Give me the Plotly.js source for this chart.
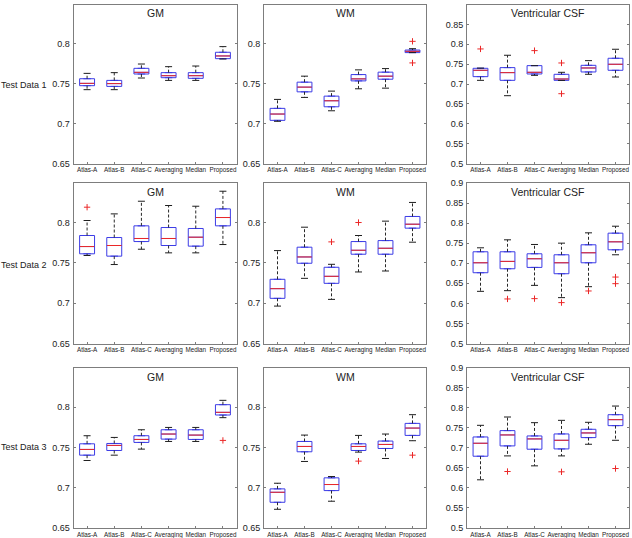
<!DOCTYPE html>
<html>
<head>
<meta charset="utf-8">
<script src="https://cdn.plot.ly/plotly-3.0.1.min.js"></script>
<style>html,body{margin:0;padding:0;background:#fff;}#chart{width:632px;height:538px;}</style>
</head>
<body>
<div id="chart"></div>
<script>
const categories = ['Atlas-A','Atlas-B','Atlas-C','Averaging','Median','Proposed'];
const rowLabels = ['Test Data 1','Test Data 2','Test Data 3'];
const tissueTitles = ['GM','WM','Ventricular CSF'];

// Test Data 1 - GM
const gm1Lower  = [0.7424,0.7424,0.7570,0.7540,0.7540,0.7808];
const gm1Q1     = [0.7474,0.7465,0.7620,0.7574,0.7566,0.7812];
const gm1Median = [0.7503,0.7500,0.7641,0.7599,0.7599,0.7846];
const gm1Q3     = [0.7561,0.7540,0.7691,0.7637,0.7637,0.7892];
const gm1Upper  = [0.7628,0.7637,0.7745,0.7712,0.7720,0.7963];
const gm1OutX = []; const gm1OutY = [];
// Test Data 1 - WM
const wm1Lower  = [0.7028,0.7327,0.7160,0.7435,0.7443,0.7888];
const wm1Q1     = [0.7040,0.7397,0.7210,0.7534,0.7555,0.7888];
const wm1Median = [0.7119,0.7456,0.7285,0.7559,0.7593,0.7904];
const wm1Q3     = [0.7190,0.7518,0.7343,0.7613,0.7643,0.7920];
const wm1Upper  = [0.7302,0.7593,0.7406,0.7672,0.7688,0.7937];
const wm1OutX = ['Proposed','Proposed']; const wm1OutY = [0.8029,0.7759];
// Test Data 1 - Ventricular CSF
const csf1Lower  = [0.7092,0.6706,0.7218,0.7090,0.7244,0.7176];
const csf1Q1     = [0.7185,0.7092,0.7252,0.7092,0.7303,0.7345];
const csf1Median = [0.7345,0.7286,0.7294,0.7126,0.7403,0.7496];
const csf1Q3     = [0.7395,0.7412,0.7462,0.7244,0.7470,0.7647];
const csf1Upper  = [0.7400,0.7723,0.7462,0.7294,0.7588,0.7874];
const csf1OutX = ['Atlas-A','Atlas-C','Averaging','Averaging']; const csf1OutY = [0.7882,0.7840,0.7529,0.6756];

// Test Data 2 - GM
const gm2Lower  = [0.7591,0.7479,0.7669,0.7624,0.7624,0.7727];
const gm2Q1     = [0.7612,0.7583,0.7764,0.7715,0.7707,0.7959];
const gm2Median = [0.7702,0.7715,0.7802,0.7802,0.7818,0.8062];
const gm2Q3     = [0.7839,0.7814,0.7959,0.7938,0.7926,0.8169];
const gm2Upper  = [0.8025,0.8107,0.8264,0.8211,0.8202,0.8388];
const gm2OutX = ['Atlas-A']; const gm2OutY = [0.8190];
// Test Data 2 - WM
const wm2Lower  = [0.6964,0.7308,0.7047,0.7387,0.7399,0.7756];
const wm2Q1     = [0.7060,0.7495,0.7246,0.7607,0.7607,0.7930];
const wm2Median = [0.7180,0.7573,0.7333,0.7656,0.7681,0.7979];
const wm2Q3     = [0.7296,0.7694,0.7445,0.7764,0.7776,0.8075];
const wm2Upper  = [0.7652,0.7942,0.7482,0.7839,0.8017,0.8249];
const wm2OutX = ['Atlas-C','Averaging']; const wm2OutY = [0.7760,0.8000];
// Test Data 2 - Ventricular CSF
const csf2Lower  = [0.6300,0.6317,0.6449,0.6143,0.6416,0.7211];
const csf2Q1     = [0.6764,0.6863,0.6896,0.6739,0.7012,0.7335];
const csf2Median = [0.7012,0.7046,0.7112,0.7012,0.7261,0.7534];
const csf2Q3     = [0.7286,0.7286,0.7236,0.7211,0.7460,0.7750];
const csf2Upper  = [0.7385,0.7584,0.7468,0.7501,0.7758,0.7923];
const csf2OutX = ['Atlas-B','Atlas-C','Averaging','Median','Proposed','Proposed'];
const csf2OutY = [0.6110,0.6118,0.6019,0.6309,0.6656,0.6491];

// Test Data 3 - GM
const gm3Lower  = [0.7337,0.7403,0.7478,0.7573,0.7573,0.7868];
const gm3Q1     = [0.7403,0.7461,0.7561,0.7602,0.7598,0.7901];
const gm3Median = [0.7474,0.7524,0.7598,0.7665,0.7652,0.7934];
const gm3Q3     = [0.7544,0.7548,0.7644,0.7718,0.7718,0.8029];
const gm3Upper  = [0.7644,0.7623,0.7718,0.7747,0.7747,0.8083];
const gm3OutX = ['Proposed']; const gm3OutY = [0.7586];
// Test Data 3 - WM
const wm3Lower  = [0.6732,0.7325,0.6832,0.7441,0.7362,0.7582];
const wm3Q1     = [0.6819,0.7445,0.6964,0.7461,0.7486,0.7648];
const wm3Median = [0.6943,0.7511,0.7039,0.7511,0.7536,0.7739];
const wm3Q3     = [0.6985,0.7573,0.7122,0.7544,0.7578,0.7797];
const wm3Upper  = [0.7055,0.7652,0.7138,0.7648,0.7665,0.7905];
const wm3OutX = ['Averaging','Proposed']; const wm3OutY = [0.7329,0.7403];
// Test Data 3 - Ventricular CSF
const csf3Lower  = [0.6201,0.6797,0.6549,0.6797,0.7087,0.7186];
const csf3Q1     = [0.6789,0.7046,0.6963,0.6971,0.7253,0.7551];
const csf3Median = [0.7112,0.7319,0.7220,0.7186,0.7369,0.7700];
const csf3Q3     = [0.7269,0.7427,0.7294,0.7344,0.7460,0.7824];
const csf3Upper  = [0.7559,0.7766,0.7625,0.7683,0.7634,0.8039];
const csf3OutX = ['Atlas-B','Averaging','Proposed']; const csf3OutY = [0.6408,0.6400,0.6482];

const panels = [
  [gm1Lower,gm1Q1,gm1Median,gm1Q3,gm1Upper,gm1OutX,gm1OutY],
  [wm1Lower,wm1Q1,wm1Median,wm1Q3,wm1Upper,wm1OutX,wm1OutY],
  [csf1Lower,csf1Q1,csf1Median,csf1Q3,csf1Upper,csf1OutX,csf1OutY],
  [gm2Lower,gm2Q1,gm2Median,gm2Q3,gm2Upper,gm2OutX,gm2OutY],
  [wm2Lower,wm2Q1,wm2Median,wm2Q3,wm2Upper,wm2OutX,wm2OutY],
  [csf2Lower,csf2Q1,csf2Median,csf2Q3,csf2Upper,csf2OutX,csf2OutY],
  [gm3Lower,gm3Q1,gm3Median,gm3Q3,gm3Upper,gm3OutX,gm3OutY],
  [wm3Lower,wm3Q1,wm3Median,wm3Q3,wm3Upper,wm3OutX,wm3OutY],
  [csf3Lower,csf3Q1,csf3Median,csf3Q3,csf3Upper,csf3OutX,csf3OutY]
];

const W = 632, H = 538;
const colPx = [[73.5,236.5],[264,426],[467,629]];
const rowPx = [[4.5,163.5],[183,343.5],[367.5,528]];
const FONT = 'Liberation Sans, Arial, sans-serif';
const BLUE = 'rgb(60,60,230)';
const RED = 'rgb(235,40,40)';
const FRAME = 'rgb(125,125,125)';

const traces = [];
const layout = {
  width: W, height: H,
  margin: {l:0, r:0, t:0, b:0},
  paper_bgcolor: '#fff', plot_bgcolor: '#fff',
  showlegend: false,
  font: {family: FONT, color: '#222'},
  annotations: []
};

panels.forEach((p, i) => {
  const [lower, q1, med, q3, upper, outX, outY] = p;
  const r = Math.floor(i / 3), c = i % 3;
  const n = i + 1;
  const xa = 'x' + (n === 1 ? '' : n), ya = 'y' + (n === 1 ? '' : n);
  const isCsf = c === 2;

  traces.push({
    type: 'box', xaxis: xa, yaxis: ya,
    x: categories, q1: q1, median: med, q3: q3,
    lowerfence: q1, upperfence: q3,
    width: 0.55,
    line: {color: BLUE, width: 1},
    fillcolor: 'rgba(255,255,255,0)',
    boxpoints: false, hoverinfo: 'skip'
  });
  const wx = [], wy = [];
  categories.forEach((cat, k) => {
    wx.push(cat, cat, null, cat, cat, null);
    wy.push(q3[k], upper[k], null, q1[k], lower[k], null);
  });
  traces.push({
    type: 'scatter', mode: 'lines', xaxis: xa, yaxis: ya,
    x: wx, y: wy, connectgaps: false,
    line: {color: 'rgb(40,40,40)', width: 1, dash: '3px,2px'},
    hoverinfo: 'skip'
  });
  traces.push({
    type: 'scatter', mode: 'markers', xaxis: xa, yaxis: ya,
    x: categories.concat(categories), y: lower.concat(upper),
    marker: {symbol: 'line-ew', size: 5, color: 'rgb(30,30,30)', line: {color: 'rgb(30,30,30)', width: 1}},
    hoverinfo: 'skip'
  });
  traces.push({
    type: 'scatter', mode: 'markers', xaxis: xa, yaxis: ya,
    x: categories, y: med,
    marker: {symbol: 'line-ew', size: 10.3, color: RED, line: {color: RED, width: 1}},
    hoverinfo: 'skip'
  });
  if (outX.length) {
    traces.push({
      type: 'scatter', mode: 'markers', xaxis: xa, yaxis: ya,
      x: outX, y: outY,
      marker: {symbol: 'cross-thin', size: 4.5, color: RED, line: {color: RED, width: 1}},
      hoverinfo: 'skip'
    });
  }

  const xd = [colPx[c][0] / W, colPx[c][1] / W];
  const yd = [1 - rowPx[r][1] / H, 1 - rowPx[r][0] / H];
  const yTicks = isCsf ? [0.5,0.55,0.6,0.65,0.7,0.75,0.8,0.85,0.9] : [0.65,0.7,0.75,0.8];
  const yRange = isCsf ? [0.5, 0.9] : [0.65, 0.849];

  layout['xaxis' + (n === 1 ? '' : n)] = {
    domain: xd, anchor: ya, type: 'category',
    categoryorder: 'array', categoryarray: categories,
    range: [-0.5, 5.5],
    showline: true, linecolor: FRAME, linewidth: 1, mirror: true,
    ticks: 'inside', ticklen: 2, tickcolor: FRAME,
    showgrid: false, zeroline: false,
    tickangle: 0, ticklabelstandoff: 0,
    tickfont: {size: 6.3, family: FONT, color: '#222'},
    fixedrange: true
  };
  layout['yaxis' + (n === 1 ? '' : n)] = {
    domain: yd, anchor: xa,
    range: yRange, tickmode: 'array', tickvals: yTicks,
    ticktext: yTicks.map(v => String(v)),
    showline: true, linecolor: FRAME, linewidth: 1, mirror: 'ticks',
    ticks: 'inside', ticklen: 2, tickcolor: FRAME,
    showgrid: false, zeroline: false,
    tickfont: {size: 9, family: FONT, color: '#222'},
    ticklabelstandoff: 1,
    fixedrange: true
  };
  layout.annotations.push({
    xref: 'paper', yref: 'paper',
    x: (xd[0] + xd[1]) / 2, y: 1 - (rowPx[r][0] + 9) / H,
    text: tissueTitles[c], showarrow: false,
    xanchor: 'center', yanchor: 'middle',
    font: {size: 10.5, family: FONT, color: '#222'}
  });
});

rowLabels.forEach((t, r) => {
  const yMid = [85, 265, 447][r];
  layout.annotations.push({
    xref: 'paper', yref: 'paper',
    x: 24 / W, y: 1 - yMid / H,
    text: t, showarrow: false, xanchor: 'center', yanchor: 'middle',
    font: {size: 9, family: FONT, color: '#222'}
  });
});

Plotly.newPlot('chart', traces, layout, {staticPlot: true, displayModeBar: false});
</script>
</body>
</html>
